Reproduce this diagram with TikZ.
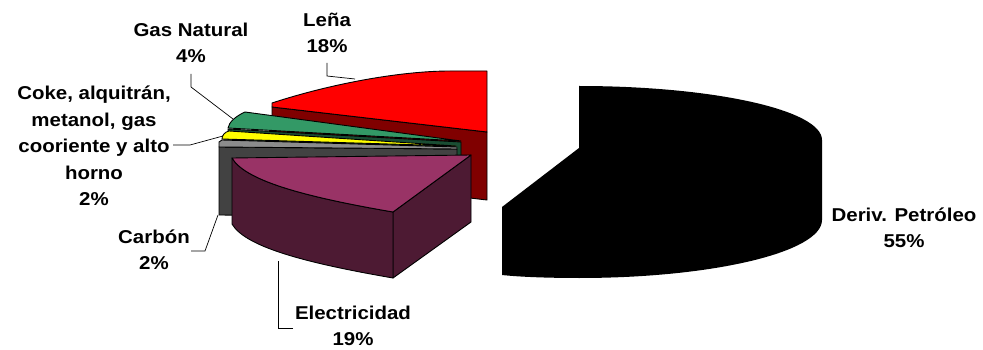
\documentclass[tikz,border=0pt]{standalone}
\usepackage{fontspec}
\setmainfont{Liberation Sans}[FakeStretch=1.1]
\definecolor{lenaTop}{HTML}{FF0000}
\definecolor{lenaSide}{HTML}{800000}
\definecolor{gasTop}{HTML}{339966}
\definecolor{gasSide}{HTML}{1A4D33}
\definecolor{cokeTop}{HTML}{FFFF00}
\definecolor{cokeSide}{HTML}{808000}
\definecolor{carbTop}{HTML}{8C8C8C}
\definecolor{carbSide}{HTML}{424242}
\definecolor{elecTop}{HTML}{993366}
\definecolor{elecSide}{HTML}{4D1A33}
\begin{document}
\begin{tikzpicture}[x=1pt,y=-1pt,
  face/.style={draw=black,line width=0.9pt,line join=round},
  lbl/.style={font=\bfseries\fontsize{18.6}{26.5}\selectfont,align=center,inner sep=0pt},
  leader/.style={draw=black,line width=0.7pt}]
\useasboundingbox (0,0) rectangle (983,350);

% Deriv. Petroleo (black, exploded)
\fill[black] (579,86) .. controls (713,86) and (822,110) .. (822,140)
  -- (822,220) .. controls (822,252) and (713,278) .. (579,278)
  .. controls (550,278) and (520,277) .. (502,275)
  -- (502,207) -- (579,148) -- cycle;

% Lena
\path[face,fill=lenaSide] (272,107) -- (487,132) -- (487,200) -- (272,175) -- cycle;
\path[face,fill=lenaTop] (272,107) -- (272,103) .. controls (330,84) and (400,71) .. (450,71)
  -- (487,71) -- (487,132) -- cycle;

% Gas natural
\path[face,fill=gasSide] (228,129) -- (461,142) -- (461,210) -- (228,197) -- cycle;
\path[face,fill=gasTop] (228,128) .. controls (229,122) and (236,116) .. (245,112) -- (461,141) -- cycle;

% Coke
\path[face,fill=cokeSide] (222,140) -- (456,147) -- (456,214) -- (222,208) -- cycle;
\path[face,fill=cokeTop] (222,139) .. controls (222,135) and (225,132) .. (229,131) -- (456,146) -- cycle;

% Carbon
\path[face,fill=carbSide] (219,147) -- (457,149) -- (457,217) -- (219,215) -- cycle;
\path[face,fill=carbTop] (219,147) -- (219,142) -- (222,140) -- (457,147) -- (457,149) -- cycle;

% Electricidad
\path[face,fill=elecSide] (471,155) -- (393,212) -- (393,278) -- (471,222) -- cycle;
\path[face,fill=elecSide] (232,158) .. controls (245,180) and (300,196) .. (393,212)
  -- (393,278) .. controls (300,262) and (245,246) .. (232,224) -- cycle;
\path[face,fill=elecTop] (232,158) -- (471,155) -- (393,212)
  .. controls (300,196) and (245,180) .. (232,158) -- cycle;

% labels
\node[lbl] (lena) at (327,33) {Leña\\18\%};
\node[lbl] (gas) at (191,43) {Gas Natural\\4\%};
\node[lbl] (coke) at (94,146) {Coke, alquitrán,\\metanol, gas\\cooriente y alto\\horno\\2\%};
\node[lbl] (carb) at (154,250) {Carbón\\2\%};
\node[lbl] (elec) at (353,326) {Electricidad\\19\%};
\node[lbl] (deriv) at (904,228) {Deriv. Petróleo\\55\%};

% leader lines
\coordinate (lenaA) at (327,63);
\coordinate (lenaB) at (327,76);
\coordinate (lenaC) at (355,79);
\draw[leader] (lenaA) -- (lenaB) -- (lenaC);
\coordinate (gasA) at (191,74);
\coordinate (gasB) at (191,87);
\coordinate (gasC) at (233,119);
\draw[leader] (gasA) -- (gasB) -- (gasC);
\coordinate (cokeA) at (173,145);
\coordinate (cokeB) at (190,145);
\coordinate (cokeC) at (223,136);
\draw[leader] (cokeA) -- (cokeB) -- (cokeC);
\coordinate (carbA) at (191,251);
\coordinate (carbB) at (205,251);
\coordinate (carbC) at (218,215);
\draw[leader] (carbA) -- (carbB) -- (carbC);
\coordinate (elecA) at (293,328);
\coordinate (elecB) at (278,328);
\coordinate (elecC) at (278,261);
\draw[leader] (elecA) -- (elecB) -- (elecC);
\end{tikzpicture}
\end{document}
